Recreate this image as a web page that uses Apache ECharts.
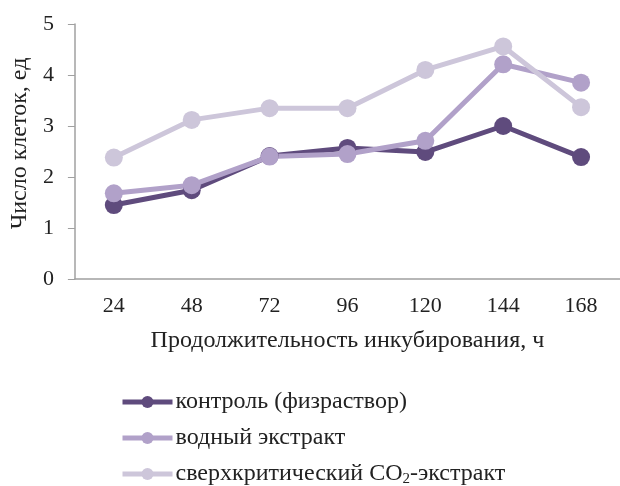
<!DOCTYPE html>
<html><head><meta charset="utf-8">
<script src="https://cdn.jsdelivr.net/npm/echarts@6/dist/echarts.min.js"></script>
<style>html,body{margin:0;padding:0;background:#fff}#c{width:620px;height:486px}</style>
</head><body><div id="c"></div>
<script>
var categories = ['24','48','72','96','120','144','168'];
var control = [1.45, 1.74, 2.41, 2.57, 2.49, 3.0, 2.39];
var aqueous = [1.68, 1.84, 2.40, 2.45, 2.71, 4.21, 3.85];
var co2 = [2.38, 3.12, 3.35, 3.35, 4.10, 4.56, 3.37];
var seriesNames = ['контроль (физраствор)', 'водный экстракт', 'сверхкритический CO₂-экстракт'];
var colors = ['#5f4b7d', '#b1a1c9', '#cdc6da'];
var yTicks = [0,1,2,3,4,5];

var font = 'Liberation Serif';
var chart = echarts.init(document.getElementById('c'));
function mk(name, data, color) {
  return {name: name, type: 'line', data: data, symbol: 'circle', symbolSize: 18,
    lineStyle: {width: 5, color: color}, itemStyle: {color: color}, z: 2};
}
function lg(i, top) {
  return {
    orient: 'vertical', left: 120, top: top, padding: 0, itemWidth: 50, itemHeight: 15,
    data: [seriesNames[i]],
    lineStyle: {width: 5},
    formatter: function(n){ return n.replace('CO₂', 'CO{sub|2}'); },
    textStyle: {fontFamily: font, fontSize: 24, color: '#222', padding: [0,0,0,-2],
      rich: {sub: {fontFamily: font, fontSize: 15, color: '#222', verticalAlign: 'bottom', padding: [10,0,0,0]}}}
  };
}
chart.setOption({
  animation: false,
  grid: {left: 72, right: 0, top: 24, bottom: 207},
  legend: [lg(0, 390), lg(1, 426), lg(2, 462)],
  xAxis: {
    type: 'category', data: categories, boundaryGap: true,
    axisLine: {lineStyle: {color: '#a0a0a0', width: 1.5}},
    axisTick: {alignWithLabel: true, length: 6, lineStyle: {color: '#a0a0a0'}},
    axisLabel: {fontFamily: font, fontSize: 22, color: '#222', margin: 16},
    name: 'Продолжительность инкубирования, ч', nameLocation: 'middle', nameGap: 50,
    nameTextStyle: {fontFamily: font, fontSize: 24, color: '#222'}
  },
  yAxis: {
    type: 'value', min: 0, max: 5, interval: 1,
    axisLine: {show: true, lineStyle: {color: '#a0a0a0', width: 1.5}},
    axisTick: {show: true, length: 7, lineStyle: {color: '#a0a0a0'}},
    splitLine: {show: false},
    axisLabel: {fontFamily: font, fontSize: 22, color: '#222', margin: 21},
    name: 'Число клеток, ед', nameLocation: 'middle', nameGap: 40, nameRotate: 90,
    nameTextStyle: {fontFamily: font, fontSize: 24, color: '#222', padding: [0,0,0,16]}
  },
  series: [mk(seriesNames[0], control, colors[0]), mk(seriesNames[1], aqueous, colors[1]), mk(seriesNames[2], co2, colors[2])]
});
</script></body></html>
